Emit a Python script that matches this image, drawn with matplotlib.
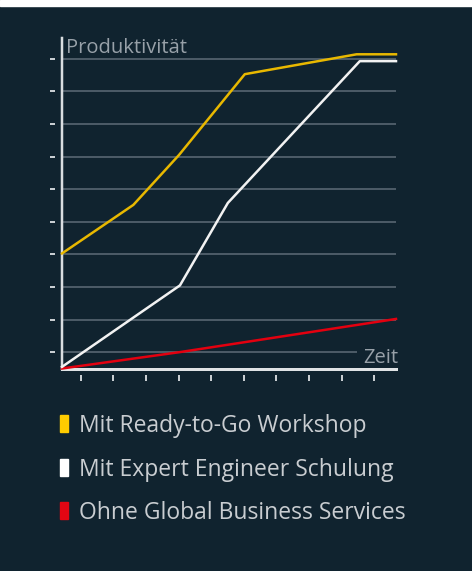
import matplotlib.pyplot as plt
from matplotlib.patches import Rectangle

# Chart data (time units along x, productivity units along y)
zeit_ready = [0, 2.19, 3.59, 5.61, 9.04, 10.25]
prod_ready = [3.53, 5.02, 6.55, 9.03, 9.64, 9.64]

zeit_expert = [0, 3.62, 5.09, 9.14, 10.25]
prod_expert = [0.05, 2.55, 5.08, 9.43, 9.43]

zeit_ohne = [0, 3.6, 10.25]
prod_ohne = [0.0, 0.5, 1.52]

labels = ["Mit Ready-to-Go Workshop",
          "Mit Expert Engineer Schulung",
          "Ohne Global Business Services"]

grid_levels = [0.5, 1.5, 2.5, 3.5, 4.5, 5.5, 6.5, 7.5, 8.5, 9.5]
grid_ends = [9.05, 10.25, 10.25, 10.25, 10.25, 10.25, 10.25, 10.25, 10.25, 10.25]
x_ticks = [0.58, 1.58, 2.58, 3.58, 4.58, 5.58, 6.58, 7.58, 8.58, 9.58]

W, H = 472, 571
bg = '#10232f'
line_colors = ['#e8b800', '#f2f2f2', '#e3000f']
key_colors = ['#ffcc00', '#ffffff', '#e30613']
px = 0.72  # points per pixel at dpi 100

plt.rcParams['font.family'] = ['Open Sans', 'DejaVu Sans']

fig = plt.figure(figsize=(W / 100, H / 100), dpi=100, facecolor=bg)
ax = fig.add_axes([62 / W, 1 - 368.5 / H, (396 - 62) / W, (368.5 - 38) / H])
ax.set_facecolor(bg)
ax.set_xlim(0, 10.25)
ax.set_ylim(0, 10.14)

for s in ax.spines.values():
    s.set_visible(False)
ax.spines['left'].set_position(('outward', 7 * px))
ax.spines['bottom'].set_position(('outward', 6 * px))
ax.set_yticks(grid_levels)
ax.set_xticks(x_ticks)
ax.tick_params(axis='y', length=5 * px, width=2 * px, color='#c9ced2', labelleft=False)
ax.tick_params(axis='x', length=6 * px, width=2 * px, color='#c9ced2', labelbottom=False)

# grid lines (lowest one stops short of the "Zeit" label)
ax.hlines(grid_levels, 0, grid_ends, color='#4b5a66', lw=2 * px, zorder=1)

# axis lines
ax.axvline(0, color='#d9dde0', lw=2.5 * px, clip_on=False, zorder=2)
ax.axhline(0, color='#e0e3e5', lw=3 * px, clip_on=False, zorder=2)

ax.plot(zeit_ohne, prod_ohne, color=line_colors[2], lw=2.5 * px, zorder=3, clip_on=False)
ax.plot(zeit_expert, prod_expert, color=line_colors[1], lw=2.5 * px, zorder=4, clip_on=False)
ax.plot(zeit_ready, prod_ready, color=line_colors[0], lw=2.5 * px, zorder=5, clip_on=False)

fig.text(66 / W, 1 - 53 / H, "Produktivität", fontsize=14.5, color='#98a1a9', va='baseline')
fig.text(398 / W, 1 - 363 / H, "Zeit", fontsize=14.5, color='#98a1a9', va='baseline', ha='right')

# legend
for i, (lab, col) in enumerate(zip(labels, key_colors)):
    yb = 432 + i * 43.5
    fig.add_artist(Rectangle((60 / W, 1 - yb / H), 8 / W, 17 / H,
                             transform=fig.transFigure, color=col))
    fig.text(79 / W, 1 - yb / H, lab, fontsize=16.5, color='#c9cdd1', va='baseline')

# white strip along the top edge
fig.add_artist(Rectangle((0, 1 - 6 / H), 1, 6 / H, transform=fig.transFigure,
                         color='white'))

fig.savefig('out.png', dpi=100, facecolor=bg)
